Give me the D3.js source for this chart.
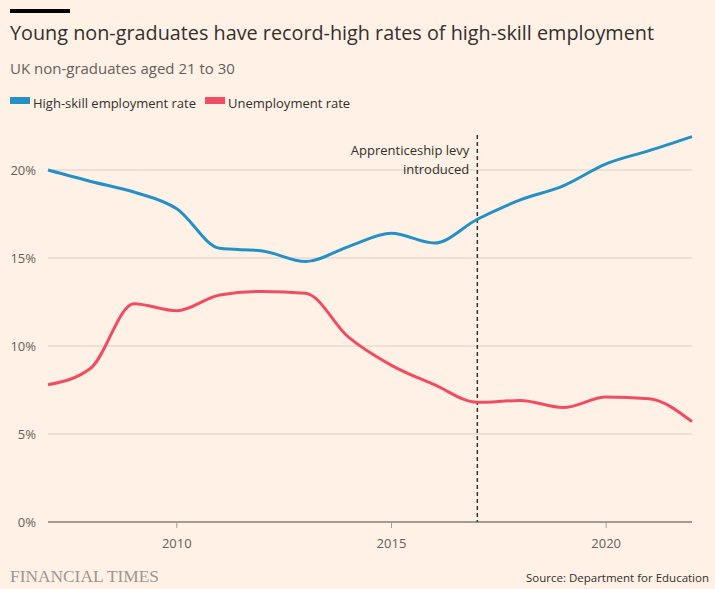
<!DOCTYPE html>
<html><head><meta charset="utf-8">
<script src="https://cdn.jsdelivr.net/npm/d3@7"></script>
<style>
html,body{margin:0;padding:0;background:#fff1e5;}
svg{display:block;}
text{font-family:"Open Sans","Noto Sans",sans-serif;}
text.serif{font-family:"Liberation Serif","DejaVu Serif",serif;}
</style></head><body>
<svg id="chart" width="715" height="589"></svg>
<script>
const years = [2007,2008,2009,2010,2011,2012,2013,2014,2015,2016,2017,2018,2019,2020,2021,2022];
const highSkill = [20.0,19.35,18.75,17.8,15.55,15.4,14.8,15.65,16.4,15.85,17.2,18.3,19.1,20.35,21.1,21.9];
const unemployment = [7.8,8.75,12.4,12.0,12.9,13.1,13.0,10.5,8.9,7.8,6.8,6.9,6.5,7.1,7.0,5.7];
const yTicks = [0,5,10,15,20];
const xTicks = [2010,2015,2020];
const seriesNames = ["High-skill employment rate","Unemployment rate"];
const seriesColors = ["#2490c6","#f14d62"];
const annotationYear = 2017;
const annotationText = ["Apprenticeship levy","introduced"];

const svg = d3.select("#chart");
const W = 715, H = 589;
const m = {left:48, right:23, top:135, bottom:67};
const x = d3.scaleLinear().domain([2007,2022]).range([m.left, W - m.right]);
const y = d3.scaleLinear().domain([0,22]).range([H - m.bottom, H - m.bottom - 22*17.6]);

// top bar
svg.append("rect").attr("x",10).attr("y",9).attr("width",60).attr("height",4).attr("fill","#000");
svg.append("text").attr("x",10).attr("y",40).attr("font-size",20).attr("fill","#33302e")
  .attr("textLength",644).attr("lengthAdjust","spacingAndGlyphs")
  .text("Young non-graduates have record-high rates of high-skill employment");
svg.append("text").attr("x",10).attr("y",74).attr("font-size",15).attr("fill","#66605c")
  .text("UK non-graduates aged 21 to 30");

// legend
let lx = 10;
seriesNames.forEach((n,i)=>{
  svg.append("rect").attr("x",lx).attr("y",97).attr("width",20).attr("height",7).attr("fill",seriesColors[i]);
  const t = svg.append("text").attr("x",lx+23).attr("y",108).attr("font-size",13).attr("fill","#33302e").text(n);
  lx += 23 + t.node().getComputedTextLength() + 9;
});

// grid
const g = svg.append("g");
yTicks.forEach(v=>{
  g.append("line").attr("x1",m.left).attr("x2",W-m.right).attr("y1",y(v)).attr("y2",y(v))
    .attr("stroke", v===0 ? "#a39c96" : "#dbcfc6").attr("stroke-width", v===0?2:1);
  g.append("text").attr("x",36).attr("y",y(v)+4.5).attr("text-anchor","end").attr("font-size",13)
    .attr("fill","#66605c").text(v+"%");
});
xTicks.forEach(v=>{
  g.append("line").attr("x1",x(v)).attr("x2",x(v)).attr("y1",y(0)).attr("y2",y(0)+6).attr("stroke","#a39c96");
  g.append("text").attr("x",x(v)).attr("y",y(0)+26).attr("text-anchor","middle").attr("font-size",13)
    .attr("fill","#66605c").text(v);
});

// annotation
g.append("line").attr("x1",x(annotationYear)).attr("x2",x(annotationYear)).attr("y1",m.top).attr("y2",y(0))
  .attr("stroke","#33302e").attr("stroke-width",1.5).attr("stroke-dasharray","4,3");
annotationText.forEach((t,i)=>{
  g.append("text").attr("x",x(annotationYear)-8).attr("y",155+i*19).attr("text-anchor","end")
    .attr("font-size",13).attr("fill","#33302e").text(t);
});

// lines
const line = d3.line().x(d=>x(d[0])).y(d=>y(d[1])).curve(d3.curveMonotoneX);
[highSkill, unemployment].forEach((s,i)=>{
  svg.append("path").datum(years.map((yr,j)=>[yr,s[j]])).attr("d",line)
    .attr("fill","none").attr("stroke",seriesColors[i]).attr("stroke-width",3).attr("stroke-linejoin","round");
});

// footer
svg.append("text").attr("class","serif").attr("x",10).attr("y",582)
  .attr("font-size",17).attr("fill","#9e9690").attr("textLength",149).attr("lengthAdjust","spacingAndGlyphs")
  .text("FINANCIAL TIMES");
svg.append("text").attr("x",709).attr("y",582).attr("text-anchor","end").attr("font-size",11.5)
  .attr("fill","#33302e")
  .text("Source: Department for Education");
</script>
</body></html>
